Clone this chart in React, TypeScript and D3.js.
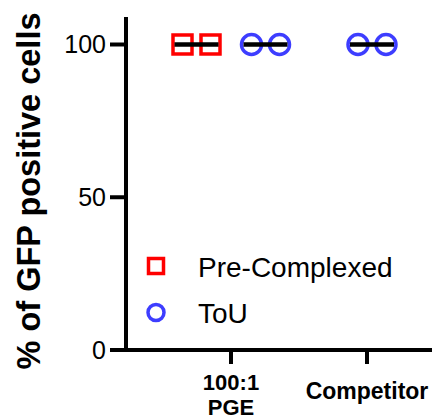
import React from "react";
import * as d3 from "d3";

const categories = ["100:1\nPGE", "Competitor"];
const seriesNames = ["Pre-Complexed", "ToU"];
const preComplexed: (number[] | null)[] = [[100, 100], null];
const tou: (number[] | null)[] = [[100, 100], [100, 100]];
const yTicks = [0, 50, 100];
const seriesColors = ["#ff0000", "#3d3dff"];

const W = 432;
const H = 420;
const axisX = 126;
const axisY = 350;
const axisTop = 17;
const FONT = "Arial, 'Liberation Sans', sans-serif";

export default function App() {
  const y = d3.scaleLinear().domain([0, 109]).range([axisY, axisTop]);
  const x = d3.scalePoint<string>().domain(categories).range([231, 367]);
  const dodge = d3.scaleBand<string>().domain(seriesNames).range([-69, 69]).paddingInner(0).paddingOuter(0);
  const allSeries = [preComplexed, tou];
  const repSpacing = 28;
  const meanHalf = 22;
  const singleShift = 5;

  const groups: { cx: number; vals: number[]; si: number }[] = [];
  categories.forEach((c, ci) => {
    const present = allSeries.map((s, si) => (s[ci] ? si : -1)).filter((v) => v >= 0);
    present.forEach((si) => {
      const vals = allSeries[si][ci] as number[];
      const off = present.length > 1 ? (dodge(seriesNames[si]) as number) + dodge.bandwidth() / 2 : singleShift;
      groups.push({ cx: (x(c) as number) + off, vals, si });
    });
  });

  const marker = (si: number, cx: number, cy: number, size: number, sw: number, key: string) => {
    if (si === 0) {
      return (
        <rect key={key} x={cx - size / 2} y={cy - size / 2} width={size} height={size}
          fill="none" stroke={seriesColors[0]} strokeWidth={sw} />
      );
    }
    return <circle key={key} cx={cx} cy={cy} r={size / 2} fill="none" stroke={seriesColors[1]} strokeWidth={sw} />;
  };

  return (
    <svg width={W} height={H} style={{ position: "absolute", left: 0, top: 0, background: "#fff" }}>
      {/* y title */}
      <text transform={`translate(40,191) rotate(-90)`} textAnchor="middle" fontFamily={FONT}
        fontWeight="bold" fontSize={32.5} fill="#000">% of GFP positive cells</text>
      {/* y axis */}
      <line x1={axisX} x2={axisX} y1={axisTop} y2={axisY + 2} stroke="#000" strokeWidth={4} />
      {yTicks.map((t) => (
        <g key={t}>
          <line x1={110} x2={axisX} y1={y(t)} y2={y(t)} stroke="#000" strokeWidth={4} />
          <text x={106} y={y(t)} dy="0.36em" textAnchor="end" fontFamily={FONT} fontSize={25} fill="#000">{t}</text>
        </g>
      ))}
      {/* x axis */}
      <line x1={axisX} x2={W} y1={axisY} y2={axisY} stroke="#000" strokeWidth={4} />
      {categories.map((c) => {
        const lines = c.split("\n");
        const lh = 24.8;
        const b0 = lines.length > 1 ? 390 : 399;
        return (
          <g key={c}>
            <line x1={x(c)} x2={x(c)} y1={axisY} y2={364} stroke="#000" strokeWidth={4} />
            {lines.map((ln, i) => (
              <text key={i} x={x(c)} y={b0 + i * lh} textAnchor="middle" fontFamily={FONT}
                fontWeight="bold" fontSize={lines.length > 1 ? 22 : 23} fill="#000">{ln}</text>
            ))}
          </g>
        );
      })}
      {/* data */}
      {groups.map((g, gi) => {
        const n = g.vals.length;
        const mean = d3.mean(g.vals) as number;
        return (
          <g key={gi}>
            {g.vals.map((v, i) =>
              marker(g.si, g.cx + (i - (n - 1) / 2) * repSpacing, y(v), g.si === 0 ? 19 : 20, 3.5, `m${i}`))}
            <line x1={g.cx - meanHalf} x2={g.cx + meanHalf} y1={y(mean)} y2={y(mean)} stroke="#000" strokeWidth={4.5} />
          </g>
        );
      })}
      {/* legend */}
      {seriesNames.map((s, i) => (
        <g key={s}>
          {marker(i, 156, 266 + i * 46.5, i === 0 ? 15 : 16, 3.5, "lm")}
          <text x={198} y={276.5 + i * 46} fontFamily={FONT} fontSize={28} fill="#000">{s}</text>
        </g>
      ))}
    </svg>
  );
}
